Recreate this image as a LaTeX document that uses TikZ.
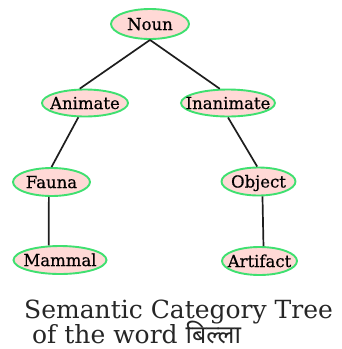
\documentclass[tikz,border=0pt]{standalone}
\usepackage{fontspec}
\setmainfont{DejaVu Serif}
\newfontfamily\conceptfont[FakeBold=0.6]{DejaVu Serif}
\newfontfamily\devafont[Script=Devanagari]{Noto Sans}
\usetikzlibrary{shapes.geometric}

\definecolor{nodefill}{HTML}{FFD9D6}
\definecolor{nodeline}{HTML}{3FE070}
\definecolor{edgecol}{HTML}{1E1E1E}
\definecolor{titlecol}{HTML}{262626}

\tikzset{
  concept/.style={ellipse, draw=nodeline, fill=nodefill, line width=1.9pt,
    inner xsep=-20pt, inner ysep=-10pt, text height=12pt, text depth=0pt,
    font=\conceptfont\fontsize{16.5}{18}\selectfont, text=black},
  link/.style={draw=edgecol, line width=1.7pt},
  caption/.style={anchor=base west, inner sep=0pt, text=titlecol,
    font=\fontsize{25}{25}\selectfont}
}

\begin{document}
\begin{tikzpicture}[x=1pt, y=-1pt]
\useasboundingbox (0,0) rectangle (341,349);

% category nodes
\node[concept, minimum width=78pt, minimum height=30pt] (noun) at (150,24) {Noun};
\node[concept, minimum width=86pt, minimum height=27pt] (animate) at (85,103) {Animate};
\node[concept, minimum width=94pt, minimum height=27pt] (inanimate) at (228,103) {Inanimate};
\node[concept, minimum width=77pt, minimum height=28pt] (fauna) at (51.5,182) {Fauna};
\node[concept, minimum width=74pt, minimum height=28pt] (object) at (258.5,181.5) {Object};
\node[concept, minimum width=93pt, minimum height=28pt] (mammal) at (60,260) {Mammal};
\node[concept, minimum width=75pt, minimum height=28pt] (artifact) at (259.5,261) {Artifact};

% tree edges
\draw[link] (noun.south) -- (animate.110);
\draw[link] (noun.south) -- (inanimate.120);
\draw[link] (animate.245) -- (fauna.north);
\draw[link] (inanimate.south) -- (object.95);
\draw[link] (fauna.-100) -- (mammal.128);
\draw[link] (object.-75) -- (artifact.75);

% caption
\node[caption] (title) at (24,318) {Semantic Category Tree};
\node[caption] (titlecont) at (32,343) {of the word {\devafont बिल्ला}};
\end{tikzpicture}
\end{document}
